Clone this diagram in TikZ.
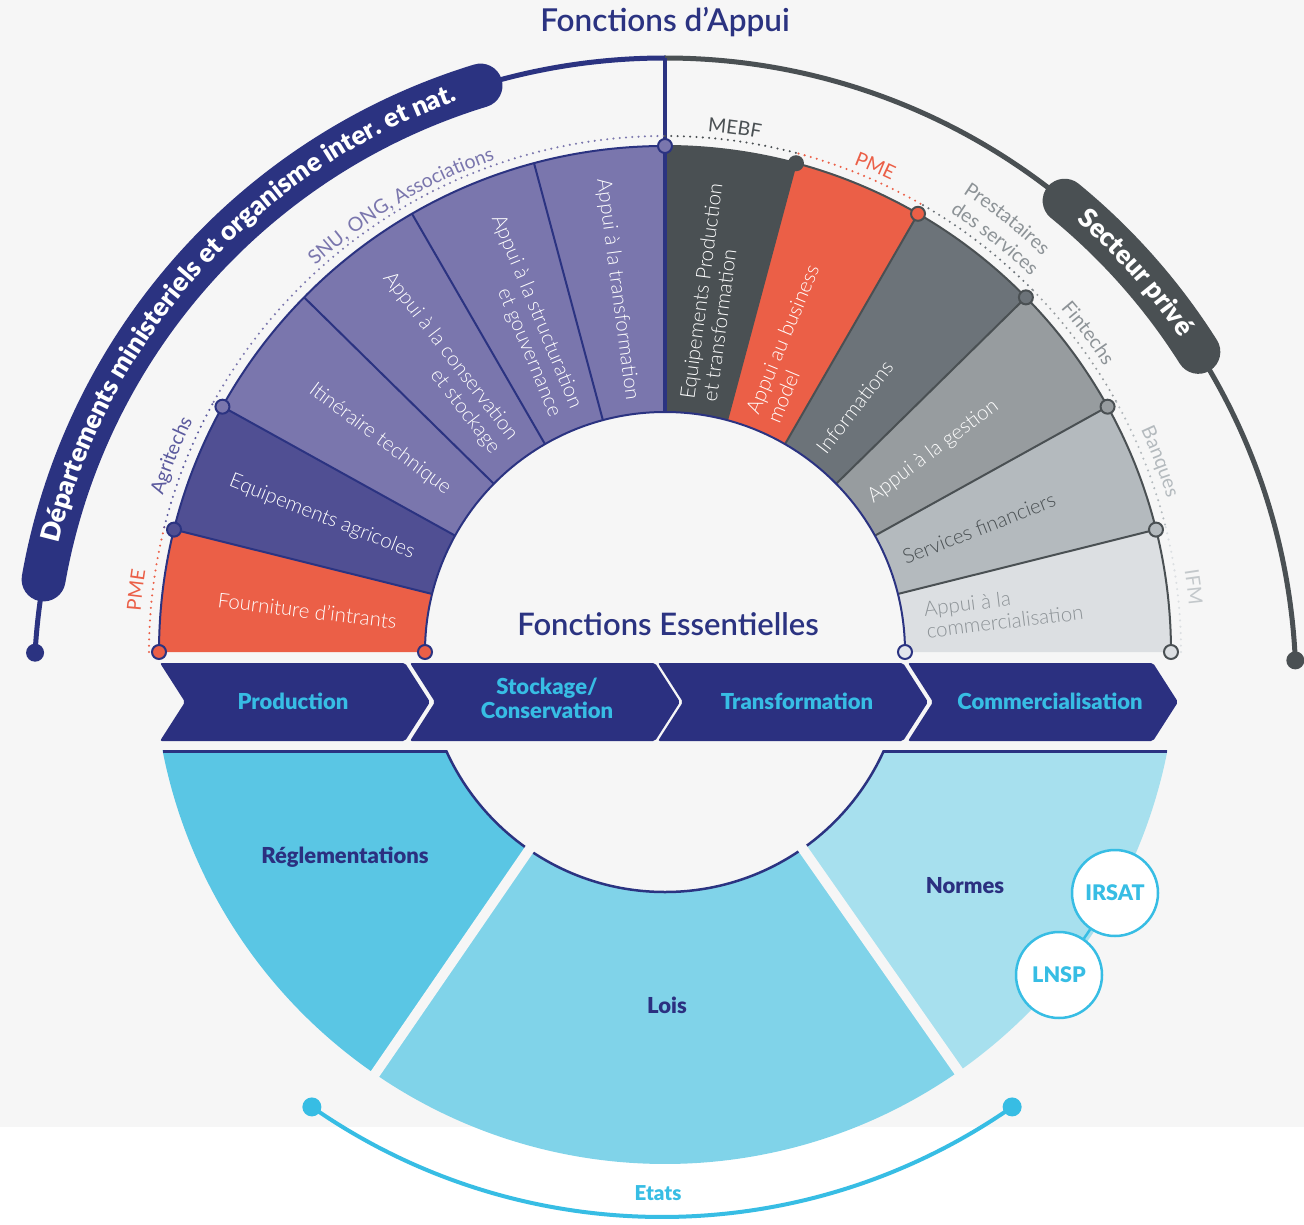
\documentclass[tikz,border=0pt]{standalone}
\usepackage{fontspec}
\setmainfont{Lato}
\newfontfamily\lightfont{Lato Light}
\newfontfamily\semifont{Lato Semibold}
\newfontfamily\blackfont{Lato Black}
\usetikzlibrary{decorations.text}
\definecolor{bgc}{HTML}{F6F6F6}
\definecolor{navyl}{HTML}{2B3381}
\definecolor{navyc}{HTML}{2B3080}
\definecolor{orng}{HTML}{EB5F47}
\definecolor{purpA}{HTML}{7A76AD}
\definecolor{purpB}{HTML}{504F93}
\definecolor{purpT}{HTML}{5B5A9E}
\definecolor{dgray}{HTML}{4A5053}
\definecolor{grayB}{HTML}{6C7379}
\definecolor{grayC}{HTML}{979C9F}
\definecolor{grayD}{HTML}{B4BABE}
\definecolor{grayE}{HTML}{DCDFE2}
\definecolor{grayT}{HTML}{8D9397}
\definecolor{grayU}{HTML}{C3C8CB}
\definecolor{cyanc}{HTML}{37BDE4}
\definecolor{blueA}{HTML}{5AC6E4}
\definecolor{blueB}{HTML}{80D3E9}
\definecolor{blueC}{HTML}{A7E0EE}
\definecolor{innerdot}{HTML}{E2E5EC}
\newcommand\curvlabel[4]{% mid angle, radius, color, text
  \path[decorate, decoration={text along path, text align=center,
    text={|\fontsize{19.5}{19.5}\selectfont\color{#3}|#4}}]
    (#1+30:#2) arc[start angle=#1+30, end angle=#1-30, radius=#2];}
\tikzset{
  seglab/.style={font=\lightfont\fontsize{20.5}{22.5}\selectfont, text=white, inner sep=0pt},
  dotmark/.style={circle, minimum size=14pt, inner sep=0pt, line width=2pt},
  dotline/.style={line width=2.3pt, line cap=round, dash pattern=on 0pt off 6.3pt},
  chev/.style={fill=navyc, rounded corners=2pt},
  chevtext/.style={font=\blackfont\fontsize{22}{24}\selectfont, text=cyanc, align=center, inner sep=0pt},
  ringtext/.style={font=\blackfont\fontsize{22}{24}\selectfont, text=navyc, inner sep=0pt},
  bubble/.style={circle, draw=cyanc, fill=white, line width=2.5pt, minimum size=86pt, inner sep=0pt,
    font=\blackfont\fontsize{21.5}{23}\selectfont, text=cyanc},
}
\begin{document}
\begin{tikzpicture}[x=1pt,y=1pt]
\useasboundingbox (0,0) rectangle (1304,-1225);
\fill[white] (0,0) rectangle (1304,-1225);
\fill[bgc] (0,0) rectangle (1304,-1127);

% ---------- big outer arcs ----------
\begin{scope}[shift={(665,-689)}]
  \draw[navyl, line width=5pt] (176.7:631) arc[start angle=176.7, end angle=90, radius=631];
  \draw[dgray, line width=5pt] (90:631) arc[start angle=90, end angle=2.6, radius=631];
  \draw[navyl, line width=44pt, line cap=round] (170:631) arc[start angle=170, end angle=107, radius=631];
  \draw[dgray, line width=44pt, line cap=round] (50.7:631) arc[start angle=50.7, end angle=32.3, radius=631];
  \node[circle, fill=navyl, minimum size=18pt, inner sep=0pt] (ldot) at (176.7:631) {};
  \node[circle, fill=dgray, minimum size=18pt, inner sep=0pt] (rdot) at (2.6:631) {};
  \coordinate (topA) at (90:631);
  \path[decorate, decoration={text along path, text align=center, raise=-7.5pt,
    text={|\blackfont\fontsize{26.5}{27}\selectfont\color{white}|Départements ministeriels et organisme inter. et nat.}}]
    (178.5:631) arc[start angle=178.5, end angle=97.5, radius=631];
  \path[decorate, decoration={text along path, text align=center, raise=-7.5pt,
    text={|\blackfont\fontsize{26.5}{27}\selectfont\color{white}|Secteur privé}}]
    (66.5:631) arc[start angle=66.5, end angle=16.5, radius=631];
\end{scope}

\node[font=\semifont\fontsize{31.5}{32}\selectfont, text=navyl] (title) at (665,-22) {Fonctions d’Appui};

% ---------- upper wheel ----------
\begin{scope}[shift={(665,-652)}]
  \def\Ri{240}\def\Ro{506}
  \foreach \a/\b/\c in {180/166/orng, 166/151/purpB, 151/135.5/purpA, 135.5/120/purpA, 120/105/purpA, 105/90/purpA,
                       90/75/dgray, 75/60/orng, 60/44.5/grayB, 44.5/29/grayC, 29/14/grayD, 14/0/grayE}
    \fill[\c] (\a:\Ri) arc[start angle=\a, end angle=\b, radius=\Ri] -- (\b:\Ro) arc[start angle=\b, end angle=\a, radius=\Ro] -- cycle;
  \draw[navyl, line width=2pt] (180:\Ro) arc[start angle=180, end angle=90, radius=\Ro];
  \foreach \a in {166,151,135.5,120,105}
    \draw[navyl, line width=2pt] (\a:\Ri) -- (\a:\Ro);
  \draw[dgray, line width=2pt] (90:\Ro) arc[start angle=90, end angle=0, radius=\Ro];
  \foreach \a in {75,60,44.5,29,14}
    \draw[dgray, line width=2pt] (\a:\Ri) -- (\a:\Ro);
  \draw[navyl, line width=2pt] (0:\Ri) arc[start angle=0, end angle=180, radius=\Ri];
  \coordinate (topI) at (90:\Ri);
  \draw[navyl, line width=4pt] (topA) -- (topI);

  % dotted outer arcs
  \def\Rd{516}
  \draw[dotline, orng]  (180:\Rd) arc[start angle=180, end angle=166, radius=\Rd];
  \draw[dotline, purpT] (166:\Rd) arc[start angle=166, end angle=151, radius=\Rd];
  \draw[dotline, purpA] (151:\Rd) arc[start angle=151, end angle=90, radius=\Rd];
  \draw[dotline, dgray] (90:\Rd) arc[start angle=90, end angle=75, radius=\Rd];
  \draw[dotline, orng]  (75:\Rd) arc[start angle=75, end angle=60, radius=\Rd];
  \draw[dotline, grayB] (60:\Rd) arc[start angle=60, end angle=44.5, radius=\Rd];
  \draw[dotline, grayC] (44.5:\Rd) arc[start angle=44.5, end angle=29, radius=\Rd];
  \draw[dotline, grayD] (29:\Rd) arc[start angle=29, end angle=14, radius=\Rd];
  \draw[dotline, grayE] (14:\Rd) arc[start angle=14, end angle=0, radius=\Rd];

  % dots
  \node[dotmark, draw=navyl, fill=orng]  (d180) at (180:\Ro) {};
  \node[dotmark, draw=navyl, fill=purpB] (d166) at (166:\Ro) {};
  \node[dotmark, draw=navyl, fill=purpA] (d151) at (151:\Ro) {};
  \node[dotmark, draw=navyl, fill=purpA] (d90)  at (90:\Ro) {};
  \node[dotmark, draw=navyl, fill=orng]  (i180) at (180:\Ri) {};
  \node[dotmark, draw=navyl, fill=innerdot] (i0) at (0:\Ri) {};
  \node[dotmark, draw=dgray, fill=dgray] (d75)  at (75:\Ro) {};
  \node[dotmark, draw=dgray, fill=orng]  (d60)  at (60:\Ro) {};
  \node[dotmark, draw=dgray, fill=grayB] (d44)  at (44.5:\Ro) {};
  \node[dotmark, draw=dgray, fill=grayC] (d29)  at (29:\Ro) {};
  \node[dotmark, draw=dgray, fill=grayD] (d14)  at (14:\Ro) {};
  \node[dotmark, draw=dgray, fill=grayE] (d0)   at (0:\Ro) {};

  % outer labels
  \curvlabel{173.3}{526}{orng}{PME}
  \curvlabel{158.3}{526}{purpT}{Agritechs}
  \curvlabel{120.6}{521}{purpA}{SNU, ONG, Associations}
  \curvlabel{82.4}{522}{dgray}{MEBF}
  \curvlabel{66.6}{523}{orng}{PME}
  \curvlabel{51.7}{547}{grayT}{Prestataires}
  \curvlabel{51.4}{524}{grayT}{des services}
  \curvlabel{37}{524}{grayT}{Fintechs}
  \curvlabel{21}{525}{grayD}{Banques}
  \curvlabel{7}{526}{grayU}{IFM}

  % segment labels
  \node[seglab, anchor=east, rotate=-7] (s1) at (173.5:270) {Fourniture d’intrants};
  \node[seglab, anchor=east, rotate=-21.5] (s2) at (158.5:270) {Equipements agricoles};
  \node[seglab, anchor=east, rotate=-36.75] (s3) at (143.25:270) {Itinéraire technique};
  \node[seglab, anchor=east, rotate=-52.25, align=right] (s4) at (127.75:262) {Appui à la conservation\\et stockage};
  \node[seglab, anchor=east, rotate=-67.5, align=right] (s5) at (112.5:260) {Appui à la structuration\\et gouvernance};
  \node[seglab, anchor=east, rotate=-82.5] (s6) at (97.5:254) {Appui à la transformation};
  \node[seglab, anchor=west, rotate=82.5, align=left] (s7) at (82.5:254) {Equipements Production\\et transformation};
  \node[seglab, anchor=west, rotate=67.5, align=left] (s8) at (67.5:254) {Appui au business\\model};
  \node[seglab, anchor=west, rotate=52.25] (s9) at (52.25:254) {Informations};
  \node[seglab, anchor=west, rotate=36.75] (s10) at (36.75:256) {Appui à la gestion};
  \node[seglab, anchor=west, rotate=21.5, text=dgray] (s11) at (21.5:256) {Services financiers};
  \node[seglab, anchor=west, rotate=7, align=left, text=grayT] (s12) at (7:262) {Appui à la\\commercialisation};
\end{scope}

\node[font=\semifont\fontsize{31}{32}\selectfont, text=navyl] (fe) at (668,-624) {Fonctions Essentielles};

% ---------- chevrons ----------
\foreach \L in {160,410,658,908}
  \fill[chev] (\L,-663) -- (\L+245,-663) -- (\L+270,-702) -- (\L+245,-741) -- (\L,-741) -- (\L+25,-702) -- cycle;
\node[chevtext] (cA) at (293,-701) {Production};
\node[chevtext] (cB) at (547,-698) {Stockage/\\Conservation};
\node[chevtext] (cC) at (797,-701) {Transformation};
\node[chevtext] (cD) at (1050,-701) {Commercialisation};

% ---------- lower ring ----------
\begin{scope}[shift={(665,-652)}]
  \def\Ri{240}\def\Rb{512}
  \begin{scope}
    \clip (-600,-98) rectangle (600,-600);
    \fill[blueA] (180:\Ri) arc[start angle=180, end angle=235.5, radius=\Ri] -- (235.5:\Rb) arc[start angle=235.5, end angle=180, radius=\Rb] -- cycle;
    \fill[blueB] (235.5:\Ri) arc[start angle=235.5, end angle=305, radius=\Ri] -- (305:\Rb) arc[start angle=305, end angle=235.5, radius=\Rb] -- cycle;
    \fill[blueC] (305:\Ri) arc[start angle=305, end angle=360, radius=\Ri] -- (360:\Rb) arc[start angle=360, end angle=305, radius=\Rb] -- cycle;
    \draw[navyl, line width=2.5pt] (180:\Ri) arc[start angle=180, end angle=360, radius=\Ri];
    \draw[bgc, line width=10pt] (235.5:225) -- (235.5:525);
    \draw[bgc, line width=10pt] (305:225) -- (305:525);
  \end{scope}
  \draw[navyl, line width=3pt] (-502,-99.5) -- (-219,-99.5);
  \draw[navyl, line width=3pt] (219,-99.5) -- (502,-99.5);
\end{scope}
\node[ringtext] (reg) at (345,-857) {Réglementations};
\node[ringtext] (lois) at (667,-1005) {Lois};
\node[ringtext] (normes) at (965,-886) {Normes};

\node[bubble] (irsat) at (1115,-893) {IRSAT};
\node[bubble] (lnsp) at (1059,-975) {LNSP};
\draw[cyanc, line width=2.5pt] (irsat) -- (lnsp);

% ---------- Etats arc ----------
\begin{scope}[shift={(662,-605)}]
  \draw[cyanc, line width=4pt] (235.1:612) arc[start angle=235.1, end angle=304.9, radius=612];
  \node[circle, fill=cyanc, minimum size=19pt, inner sep=0pt] (edl) at (235.1:612) {};
  \node[circle, fill=cyanc, minimum size=19pt, inner sep=0pt] (edr) at (304.9:612) {};
\end{scope}
\node[font=\blackfont\fontsize{20.5}{22}\selectfont, text=cyanc] (etats) at (658,-1193) {Etats};
\end{tikzpicture}
\end{document}
